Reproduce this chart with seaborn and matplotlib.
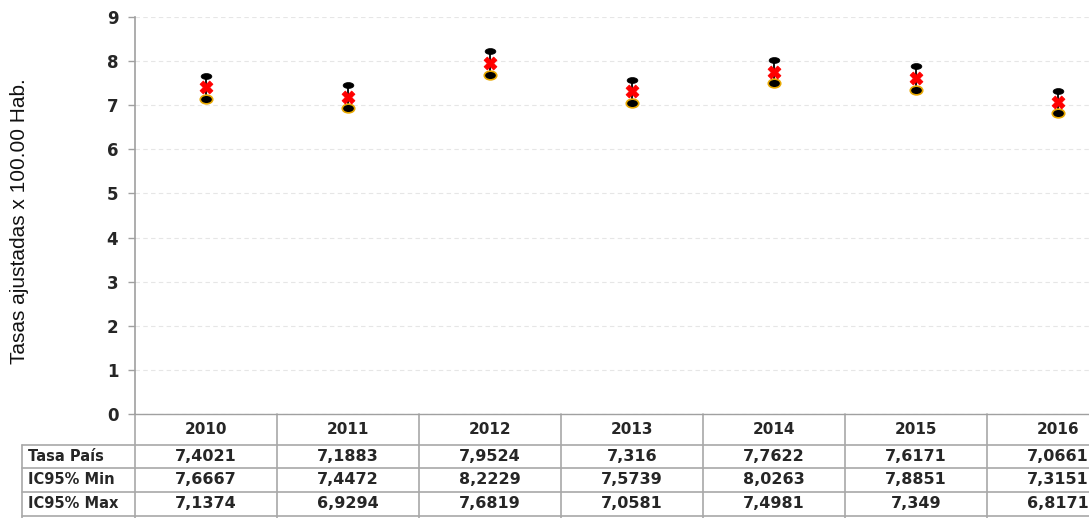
import matplotlib
matplotlib.use("Agg")
import matplotlib.pyplot as plt
import matplotlib.transforms as mtransforms
from matplotlib.path import Path
import seaborn as sns
import pandas as pd

years = ["2010", "2011", "2012", "2013", "2014", "2015", "2016"]
tasa = [7.4021, 7.1883, 7.9524, 7.316, 7.7622, 7.6171, 7.0661]
ic_min = [7.6667, 7.4472, 8.2229, 7.5739, 8.0263, 7.8851, 7.3151]
ic_max = [7.1374, 6.9294, 7.6819, 7.0581, 7.4981, 7.349, 6.8171]
tasa_txt = ["7,4021", "7,1883", "7,9524", "7,316", "7,7622", "7,6171", "7,0661"]
min_txt = ["7,6667", "7,4472", "8,2229", "7,5739", "8,0263", "7,8851", "7,3151"]
max_txt = ["7,1374", "6,9294", "7,6819", "7,0581", "7,4981", "7,349", "6,8171"]
row_labels = ["Tasa País", "IC95% Min", "IC95% Max"]
y_ticks = list(range(0, 10))
y_label = "Tasas ajustadas x 100.00 Hab."

sns.set_style("white")
plt.rcParams['font.family'] = ['DejaVu Sans']

W, H = 1089, 518
fig = plt.figure(figsize=(W / 100, H / 100), dpi=100)
ax = fig.add_axes([135 / W, 104 / H, 994 / W, 397 / H])

df = pd.DataFrame({"year": years, "tasa": tasa, "lo": ic_max, "hi": ic_min})

# error bar lines
ax.vlines(range(len(years)), df["lo"], df["hi"], color="black", lw=1.3, zorder=2)

ell_top = Path.unit_circle().transformed(mtransforms.Affine2D().scale(1.0, 0.55))
ell_bot = Path.unit_circle().transformed(mtransforms.Affine2D().scale(1.0, 0.7))

sns.scatterplot(data=df, x="year", y="hi", marker=ell_top, s=60, color="black",
                edgecolor="black", linewidth=0.5, ax=ax, zorder=3)
sns.scatterplot(data=df, x="year", y="lo", marker=ell_bot, s=80, color="black",
                edgecolor="#e8a800", linewidth=1.2, ax=ax, zorder=3)
sns.scatterplot(data=df, x="year", y="tasa", marker="X", s=85, color="#ff0000",
                edgecolor="#ff0000", linewidth=0.6, ax=ax, zorder=4)

ax.set_xlim(-0.5, 6.5)
ax.set_ylim(0, 9)
ax.set_yticks(y_ticks)
ax.set_yticklabels([str(t) for t in y_ticks], fontsize=12, fontweight="bold")
ax.set_xticks([])
ax.set_xlabel("")
ax.set_ylabel(y_label, fontsize=15, family=["Liberation Sans", "DejaVu Sans"], color="#111111")
ax.yaxis.set_label_coords(-106 / 994, (414 - 221) / 397)
ax.tick_params(axis="y", length=5, width=1, color="#a0a0a0", pad=7, left=True)
ax.grid(axis="y", color="#e6e6e6", linestyle=(0, (4, 3)), lw=0.8)
for s in ["top", "right"]:
    ax.spines[s].set_visible(False)
ax.spines["left"].set_color("#a0a0a0")
ax.spines["bottom"].set_color("#a0a0a0")
ax.spines["left"].set_linewidth(1.2)
ax.spines["bottom"].set_linewidth(1.0)

# table below the axes
trans = mtransforms.blended_transform_factory(ax.transData, ax.transAxes)
ppy = 397.0
def yf(py):
    return (414 - py) / ppy

lc = "#a8a8a8"
x_left = -0.5 + (22 - 135) / 142.0
row_edges = [414, 445, 468, 492, 516]
for i in range(len(years) + 1):
    ax.plot([i - 0.5, i - 0.5], [yf(414), yf(518)], color=lc, lw=1.2,
            transform=trans, clip_on=False)
ax.plot([x_left, x_left], [yf(445), yf(518)], color=lc, lw=1.2, transform=trans, clip_on=False)
for py in row_edges[1:]:
    ax.plot([x_left, 6.5], [yf(py), yf(py)], color=lc, lw=1.2, transform=trans, clip_on=False)

for i, yr in enumerate(years):
    ax.text(i, yf(430), yr, ha="center", va="center", fontsize=11, fontweight="bold",
            transform=trans, clip_on=False)
rows = [tasa_txt, min_txt, max_txt]
centers = [456.5, 480, 504]
for r, (lab, vals, cy) in enumerate(zip(row_labels, rows, centers)):
    ax.text(x_left + 6 / 142.0, yf(cy), lab, ha="left", va="center", fontsize=10.5,
            fontweight="bold", transform=trans, clip_on=False)
    for i, v in enumerate(vals):
        ax.text(i, yf(cy), v, ha="center", va="center", fontsize=11.5, fontweight="bold",
                transform=trans, clip_on=False)

fig.savefig("out.png", dpi=100)
